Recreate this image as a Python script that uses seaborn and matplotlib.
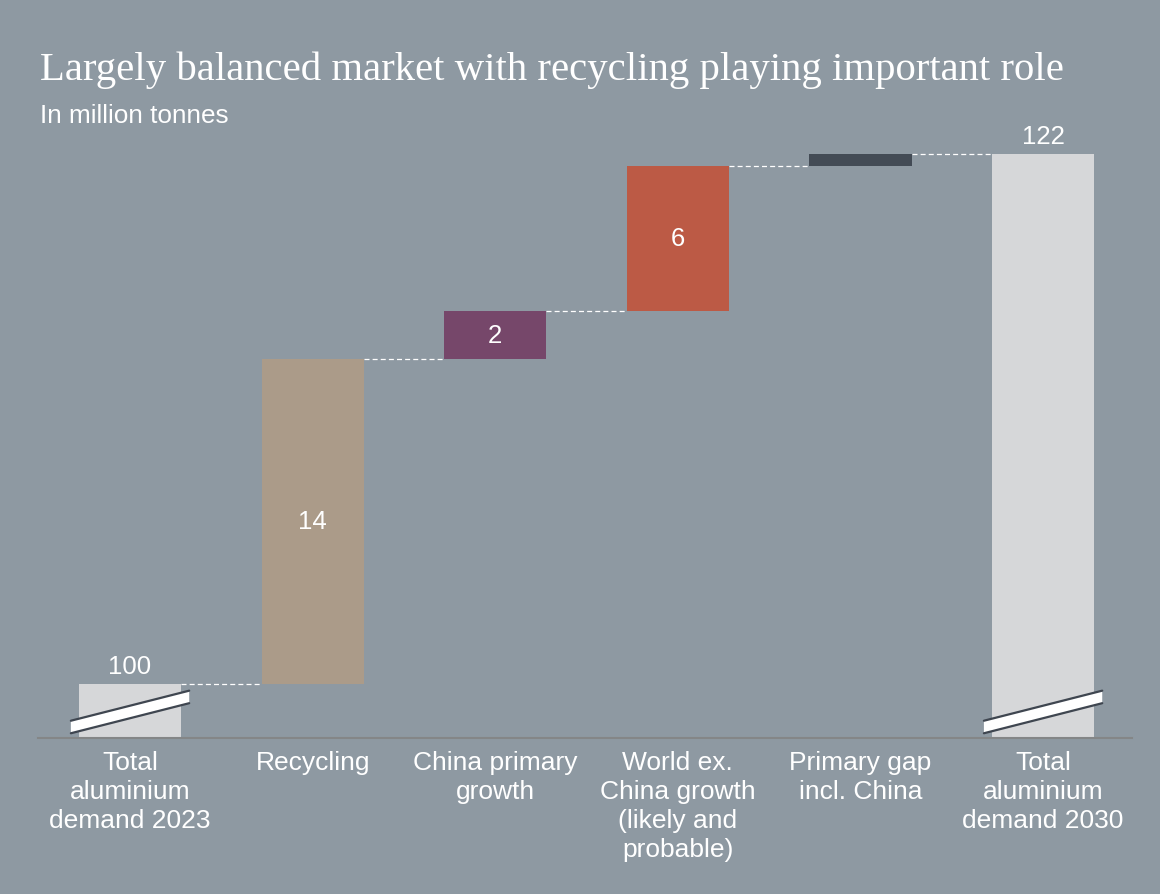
import matplotlib
matplotlib.use("Agg")
import matplotlib.pyplot as plt
import seaborn as sns
import numpy as np
from matplotlib.patches import Polygon

# ---- data ----
categories = ["Total\naluminium\ndemand 2023", "Recycling", "China primary\ngrowth",
              "World ex.\nChina growth\n(likely and\nprobable)", "Primary gap\nincl. China",
              "Total\naluminium\ndemand 2030"]
start_total = 100.0
steps = [13.5, 2.0, 6.0, 0.5]
end_total = 122.0
value_labels = ["100", "14", "2", "6", "", "122"]
colors = ["#D6D7D9", "#AB9B89", "#76476A", "#BC5A45", "#434B55", "#D6D7D9"]

BG = "#8E99A2"
sns.set_theme(style="white")
plt.rcParams["font.family"] = ["Liberation Sans", "DejaVu Sans"]

cum = np.concatenate([[start_total], start_total + np.cumsum(steps)])
tops = np.concatenate([[start_total], cum[1:], [end_total]])
bases = np.concatenate([[0.0], cum[:-1], [0.0]])

fig = plt.figure(figsize=(11.6, 8.95), dpi=100, facecolor=BG)
ax = fig.add_axes([38/1160, 156/895, 1094/1160, (739-130)/895])
ax.set_facecolor(BG)

ylow = 97.755
px_per_unit = 24.05
ytop = end_total + (155-130)/px_per_unit

width = 0.56
sns.barplot(x=list(range(len(categories))), y=tops, hue=list(range(len(categories))),
            palette=colors, legend=False, width=width, ax=ax, saturation=1, linewidth=0)
for i, p in enumerate(ax.patches):
    p.set_y(bases[i])
    p.set_height(tops[i] - bases[i])

ax.set_xlim(-0.504, 5.487)
ax.set_ylim(ylow, ytop)

# connectors
for i in range(len(cum)):
    ax.hlines(cum[i], i + width/2, i + 1 - width/2, colors="white", linestyles=(0, (4, 2.5)), lw=0.9)

# labels
for i, lab in enumerate(value_labels):
    if not lab:
        continue
    if i in (0, len(categories)-1):
        ax.annotate(lab, (i, tops[i]), xytext=(0, 4.5), textcoords="offset points",
                    ha="center", va="bottom", color="white", fontsize=18.5)
    else:
        ax.text(i, (tops[i] + bases[i]) / 2, lab, ha="center", va="center", color="white", fontsize=18.5)

# axis break markers
for i in (0, len(categories)-1):
    x0, x1 = i - 0.324, i + 0.324
    yl, yr = ylow + 0.457, ylow + 1.705
    h = 0.26
    poly = Polygon([[x0, yl - h], [x1, yr - h], [x1, yr + h], [x0, yl + h]], closed=True,
                   facecolor="white", edgecolor="none", zorder=5, clip_on=False)
    ax.add_patch(poly)
    ax.plot([x0, x1], [yl - h, yr - h], color="#3F4650", lw=1.6, zorder=6, clip_on=False)
    ax.plot([x0, x1], [yl + h, yr + h], color="#3F4650", lw=1.6, zorder=6, clip_on=False)

for s in ["top", "right", "left"]:
    ax.spines[s].set_visible(False)
ax.spines["bottom"].set_color("#848687")
ax.spines["bottom"].set_linewidth(1.5)
ax.set_yticks([])
ax.set_xticks(range(len(categories)))
ax.set_xticklabels(categories, color="white", fontsize=19, linespacing=1.25)
ax.tick_params(axis="x", length=0, pad=9)
ax.set_xlabel("")
ax.set_ylabel("")

fig.text(40/1160, 1 - 70/895, "Largely balanced market with recycling playing important role",
         family=["Liberation Serif", "DejaVu Serif"], fontsize=29.3, color="white", va="center", ha="left")
fig.text(40/1160, 1 - 116/895, "In million tonnes", fontsize=18.8, color="white", va="center", ha="left")

fig.savefig("out.png", dpi=100, facecolor=BG)
